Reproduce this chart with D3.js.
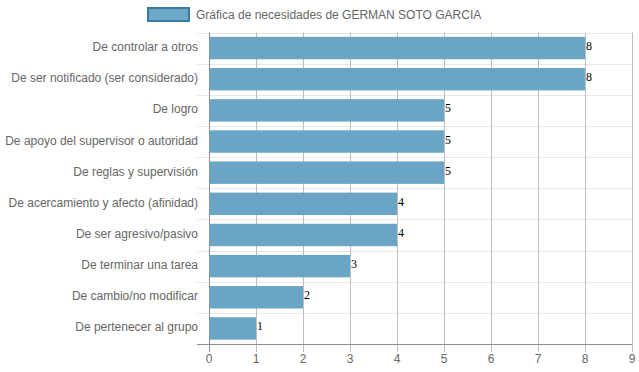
<!DOCTYPE html>
<html><head><meta charset="utf-8">
<script src="https://cdn.jsdelivr.net/npm/d3@7"></script>
<style>body{margin:0;background:#fff}svg{display:block}</style>
</head><body>
<script>
const categories = ["De controlar a otros","De ser notificado (ser considerado)","De logro","De apoyo del supervisor o autoridad","De reglas y supervisión","De acercamiento y afecto (afinidad)","De ser agresivo/pasivo","De terminar una tarea","De cambio/no modificar","De pertenecer al grupo"];
const values = [8,8,5,5,5,4,4,3,2,1];
const xTicks = [0,1,2,3,4,5,6,7,8,9];
const legendLabel = "Gráfica de necesidades de GERMAN SOTO GARCIA";

(function(){
const W=639,H=372;
const svg=d3.select("body").append("svg").attr("width",W).attr("height",H);
const pl=209,pr=632,pt=32.5,pb=344;
const x=d3.scaleLinear().domain([0,9]).range([pl,pr]);
const y=d3.scaleBand().domain(categories).range([pt,pb]);
const font="Liberation Sans, Arial, sans-serif";

// horizontal grid lines (band boundaries)
const bounds=categories.map(c=>y(c));
svg.append("g").selectAll("line").data(bounds).join("line")
  .attr("x1",pl-12).attr("x2",pr).attr("y1",d=>Math.round(d)+0.5).attr("y2",d=>Math.round(d)+0.5)
  .attr("stroke","#e8e8e8").attr("stroke-width",1);

// vertical grid lines
svg.append("g").selectAll("line").data(xTicks).join("line")
  .attr("x1",d=>Math.round(x(d))+0.5).attr("x2",d=>Math.round(x(d))+0.5)
  .attr("y1",pt).attr("y2",pb+8)
  .attr("stroke",d=>d===0?"#8c8c8c":"#bdbdbd").attr("stroke-width",1);

// bars
const bh=y.bandwidth()*0.72;
svg.append("g").selectAll("rect").data(values).join("rect")
  .attr("x",x(0)+0.5).attr("y",(d,i)=>y(categories[i])+(y.bandwidth()-bh)/2)
  .attr("width",d=>x(d)-x(0)-0.5).attr("height",bh)
  .attr("fill","#6aa5c5");

// value labels
svg.append("g").selectAll("text").data(values).join("text")
  .attr("x",d=>x(d)+1).attr("y",(d,i)=>y(categories[i])+y.bandwidth()/2+2)
  .attr("font-family","Liberation Serif, Times New Roman, serif").attr("font-size",12).attr("fill","#000")
  .text(d=>d);

// x axis line
svg.append("line").attr("x1",pl-12).attr("x2",pr).attr("y1",pb+0.5).attr("y2",pb+0.5)
  .attr("stroke","#8c8c8c");

// x tick labels
svg.append("g").selectAll("text").data(xTicks).join("text")
  .attr("x",d=>x(d)).attr("y",pb+19).attr("text-anchor","middle")
  .attr("font-family",font).attr("font-size",12).attr("fill","#666").text(d=>d);

// y labels
svg.append("g").selectAll("text").data(categories).join("text")
  .attr("x",pl-11).attr("y",d=>y(d)+y.bandwidth()/2+3).attr("text-anchor","end")
  .attr("font-family",font).attr("font-size",12).attr("fill","#666").text(d=>d);

// legend
svg.append("rect").attr("x",148).attr("y",8).attr("width",41).attr("height",13)
  .attr("fill","#6ea8c7").attr("stroke","#3a7ba3").attr("stroke-width",2);
svg.append("text").attr("x",196).attr("y",19).attr("font-family",font).attr("font-size",12)
  .attr("fill","#666").text(legendLabel);
})();
</script>
</body></html>
